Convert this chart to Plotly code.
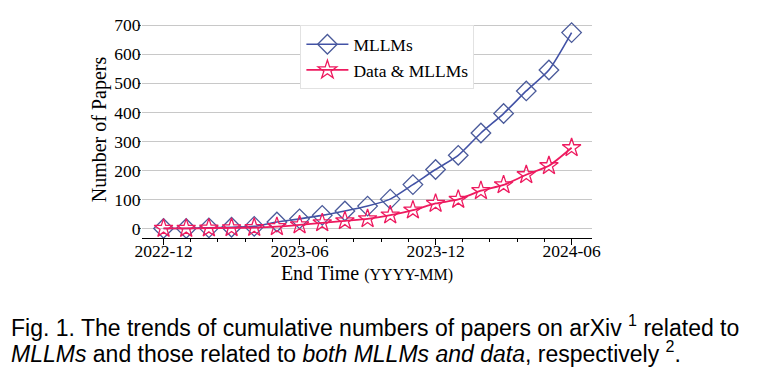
import plotly.graph_objects as go

# Monthly end times (2022-12 .. 2024-06)
months = ["2022-12", "2023-01", "2023-02", "2023-03", "2023-04", "2023-05",
          "2023-06", "2023-07", "2023-08", "2023-09", "2023-10", "2023-11",
          "2023-12", "2024-01", "2024-02", "2024-03", "2024-04", "2024-05",
          "2024-06"]

mllms = [0, 0, 2, 4, 7, 22, 33, 45, 60, 77, 101, 151, 203, 252, 329, 396, 474, 546, 675]
data_mllms = [0, 0, 1, 2, 3, 6, 12, 19, 26, 33, 46, 63, 86, 100, 130, 150, 185, 216, 278]

tick_labels = ["2022-12", "2023-06", "2023-12", "2024-06"]

x = list(range(len(months)))
tick_pos = [months.index(t) for t in tick_labels]

serif = "Liberation Serif, Times New Roman, serif"
sans = "Liberation Sans, Arial, Helvetica, sans-serif"
blue = "#4252a6"
pink = "#ee1a5f"

fig = go.Figure()
fig.add_trace(go.Scatter(
    x=x, y=mllms, name="MLLMs", mode="lines+markers",
    line=dict(color=blue, width=1.6, shape="spline", smoothing=0.6),
    marker=dict(symbol="diamond-open", size=15, color="#4a5a9a", line=dict(width=1.3)),
))
fig.add_trace(go.Scatter(
    x=x, y=data_mllms, name="Data & MLLMs", mode="lines+markers",
    line=dict(color=pink, width=1.8, shape="spline", smoothing=0.6),
    marker=dict(symbol="star-open", size=14, color=pink, line=dict(width=1.3)),
))

# page body adds an 8px margin, so the figure is 8px smaller and offset
fig.update_layout(
    width=763, height=368,
    margin=dict(l=134, r=179, t=13, b=138),
    paper_bgcolor="white", plot_bgcolor="white",
    font=dict(family=serif, size=17, color="black"),
    showlegend=True,
    legend=dict(x=0.352, y=0.98, xanchor="left", yanchor="top",
                bgcolor="white", bordercolor="#e2e2e2", borderwidth=1,
                font=dict(family=serif, size=17.5), tracegroupgap=0,
                itemwidth=42),
)

fig.update_xaxes(
    range=[-0.95, 18.9], automargin=False,
    tickvals=tick_pos, ticktext=tick_labels,
    ticks="outside", ticklen=6, tickcolor="black",
    showline=True, linecolor="black", linewidth=1,
    showgrid=False, zeroline=False,
    tickfont=dict(family=serif, size=17.5),
    ticklabelstandoff=-9,
    minor=dict(ticks="outside", ticklen=3, tickcolor="black", dtick=1.2, tick0=0),
    title=dict(text="End Time <span style='font-size:16px'>(YYYY-MM)</span>",
               font=dict(family=serif, size=20), standoff=5),
)
fig.update_yaxes(
    range=[-33, 715], automargin=False,
    tickvals=[0, 100, 200, 300, 400, 500, 600, 700],
    ticks="outside", ticklen=3, tickcolor="#555555",
    showline=False, showgrid=True, gridcolor="#c8c8c8", gridwidth=1,
    zeroline=False,
    tickfont=dict(family=serif, size=17.5),
    ticklabelstandoff=-6,
    title=dict(text="Number of Papers", font=dict(family=serif, size=20), standoff=2),
)

fig.add_annotation(
    xref="paper", yref="paper", x=-133 / 450, y=-0.405, xanchor="left", yanchor="middle",
    text="Fig. 1. The trends of cumulative numbers of papers on arXiv <sup>1</sup> related to",
    showarrow=False, font=dict(family=sans, size=23, color="black"),
)
fig.add_annotation(
    xref="paper", yref="paper", x=-133 / 450, y=-0.525, xanchor="left", yanchor="middle",
    text="<i>MLLMs</i> and those related to <i>both MLLMs and data</i>, respectively <sup>2</sup>.",
    showarrow=False, font=dict(family=sans, size=23, color="black"),
)

fig.write_html("out.html")
